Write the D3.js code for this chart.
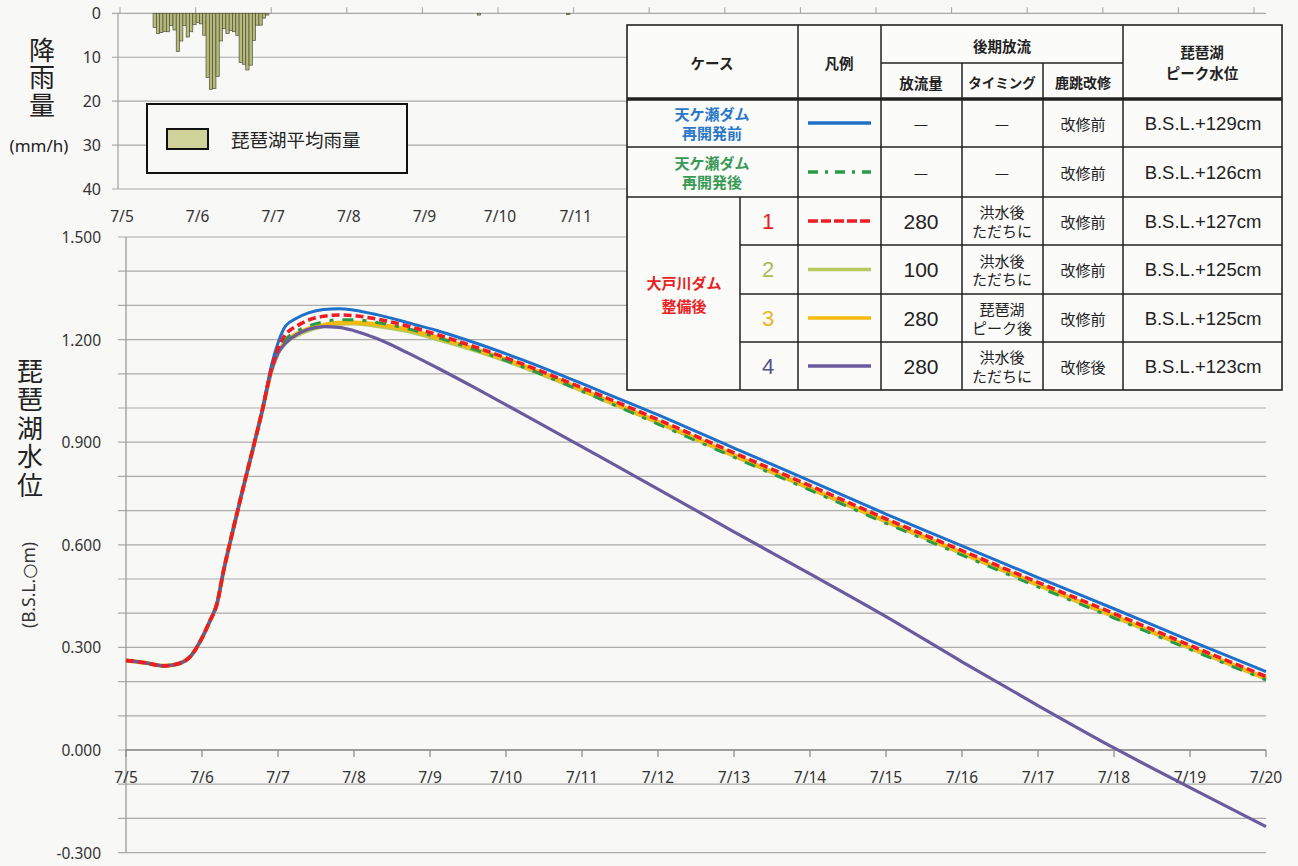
<!DOCTYPE html>
<html><head><meta charset="utf-8">
<script src="https://cdn.jsdelivr.net/npm/d3@7"></script>
<style>
html,body{margin:0;padding:0;background:#f8f8f6;}
svg{display:block;}
</style></head>
<body>
<svg id="c" width="1298" height="866"></svg>
<script>
// ---------------- DATA ----------------
// day offsets from 7/5 00:00
const days = [0, 0.25, 0.5, 0.7, 0.85, 0.97, 1.1, 1.2, 1.28, 1.41, 1.54, 1.675, 1.785,
  1.92, 2.0, 2.1, 2.25, 2.4, 2.6, 2.8, 3.0, 3.3, 3.7, 4.1, 4.6, 5.2, 6.2, 7.0, 8.0, 9.0, 10.0, 11.0, 12.0, 13.0, 14.0, 15.0];
// common rising limb (identical for all cases)
const risingLimb = [0.262, 0.255, 0.246, 0.253, 0.274, 0.315, 0.375, 0.43, 0.52, 0.645, 0.765, 0.885, 0.985];
const amagaseBefore = [1.13,1.19,1.24,1.263,1.278,1.288,1.29,1.286,1.273,1.25,1.226,1.19,1.142,1.053,0.98,0.883,0.787,0.69,0.597,0.504,0.413,0.32,0.229];
const amagaseAfter  = [1.115,1.165,1.2,1.225,1.24,1.252,1.258,1.258,1.25,1.232,1.206,1.17,1.122,1.03,0.953,0.856,0.76,0.663,0.57,0.477,0.386,0.294,0.205];
const case1 = [1.12,1.175,1.215,1.24,1.257,1.268,1.272,1.27,1.26,1.24,1.214,1.178,1.13,1.041,0.966,0.869,0.773,0.676,0.583,0.49,0.399,0.306,0.215];
const case2 = [1.113,1.16,1.19,1.212,1.227,1.24,1.246,1.247,1.24,1.225,1.201,1.168,1.122,1.032,0.957,0.86,0.764,0.668,0.575,0.482,0.39,0.298,0.208];
const case3 = [1.115,1.163,1.195,1.218,1.232,1.243,1.249,1.25,1.245,1.23,1.206,1.172,1.126,1.035,0.96,0.862,0.766,0.67,0.577,0.484,0.392,0.3,0.21];
const case4 = [1.115,1.16,1.19,1.215,1.23,1.238,1.236,1.226,1.203,1.162,1.117,1.058,0.985,0.862,0.763,0.638,0.515,0.39,0.258,0.13,0.006,-0.11,-0.224];

const dateLabels = ["7/5","7/6","7/7","7/8","7/9","7/10","7/11","7/12","7/13","7/14","7/15","7/16","7/17","7/18","7/19","7/20"];
const rainDateLabels = ["7/5","7/6","7/7","7/8","7/9","7/10","7/11"];
const levelTicks = [-0.3, 0, 0.3, 0.6, 0.9, 1.2, 1.5];
const rainTicks = [0, 10, 20, 30, 40];

// hourly rainfall (hour index on the rain chart's hourly axis) [mm/h]
const rainHour = [10,11,12,13,14,15,16,17,18,19,20,21,22,23,24,25,26,27,28,29,30,31,32,33,34,35,36,37,38,39,40,41,42,43,44,108,135];
const rainValue = [3.2,4.6,4.4,4.1,4.2,2.8,3.8,8.7,6.3,2.8,5.4,4.2,2.6,2.1,2.4,5.0,14.6,17.3,17.1,14.4,6.3,3.5,4.6,3.9,4.2,5.0,11.2,11.6,12.9,11.8,6.2,2.7,2.7,1.1,0.4,0.4,0.3];

// table content
const tableCase = ["天ケ瀬ダム\n再開発前","天ケ瀬ダム\n再開発後","1","2","3","4"];
const tableFlow = ["—","—","280","100","280","280"];
const tableTiming = ["—","—","洪水後\nただちに","洪水後\nただちに","琵琶湖\nピーク後","洪水後\nただちに"];
const tableKase = ["改修前","改修前","改修前","改修前","改修前","改修後"];
const tablePeak = ["B.S.L.+129cm","B.S.L.+126cm","B.S.L.+127cm","B.S.L.+125cm","B.S.L.+125cm","B.S.L.+123cm"];

// ---------------- DRAW ----------------
const svg = d3.select("#c");
const JP = "'Noto Sans CJK JP','Noto Sans',sans-serif";
const NUM = "'Noto Sans','DejaVu Sans',sans-serif";
const ARIAL = "'Liberation Sans',Arial,sans-serif";

const x = d3.scaleLinear().domain([0, 15]).range([126, 1266]);
const y = d3.scaleLinear().domain([-0.3, 1.5]).range([852.6, 237]);
const xr = d3.scaleLinear().domain([0, 15]).range([120, 1254]);
const xh = d3.scaleLinear().domain([0, 24]).range([120, 199.4]);   // hourly bar axis
const yr = d3.scaleLinear().domain([0, 40]).range([13.3, 189]);

// ---- rain chart ----
const rain = svg.append("g");
rain.selectAll("line.rg").data(rainTicks).join("line")
  .attr("x1", 112).attr("x2", 1266).attr("y1", d => yr(d)).attr("y2", d => yr(d))
  .attr("stroke", "#a9a9a9").attr("stroke-width", 1.2);
rain.append("line").attr("x1", 118).attr("x2", 118).attr("y1", yr(0)).attr("y2", yr(40))
  .attr("stroke", "#a0a0a0").attr("stroke-width", 1.2);
rain.selectAll("line.rt").data(dateLabels).join("line")
  .attr("x1", (d, i) => xr(i)).attr("x2", (d, i) => xr(i)).attr("y1", yr(0)).attr("y2", yr(0) - 6)
  .attr("stroke", "#a0a0a0");
rain.selectAll("text.ry").data(rainTicks).join("text")
  .attr("x", 101).attr("y", d => yr(d)).attr("text-anchor", "end").attr("dominant-baseline", "central")
  .attr("font-family", NUM).attr("font-size", 16).attr("fill", "#333").text(d => d);
rain.selectAll("text.rx").data(rainDateLabels).join("text")
  .attr("x", (d, i) => xr(i) + 2).attr("y", 216).attr("text-anchor", "middle").attr("dominant-baseline", "central")
  .attr("font-family", NUM).attr("font-size", 15.5).attr("fill", "#333").text(d => d);
const bw = xh(1) - xh(0);
rain.selectAll("rect.bar").data(rainHour).join("rect")
  .attr("x", d => xh(d)).attr("width", bw)
  .attr("y", yr(0)).attr("height", (d, i) => yr(rainValue[i]) - yr(0))
  .attr("fill", "#b7bb78").attr("stroke", "#4d4d40").attr("stroke-width", 0.7);
// rain legend
rain.append("rect").attr("x", 147).attr("y", 104).attr("width", 260).attr("height", 69)
  .attr("fill", "#f8f8f6").attr("stroke", "#111").attr("stroke-width", 2);
rain.append("rect").attr("x", 167).attr("y", 129).attr("width", 41).attr("height", 20)
  .attr("fill", "#cfd39a").attr("stroke", "#111").attr("stroke-width", 2);
rain.append("text").attr("x", 231).attr("y", 139).attr("dominant-baseline", "central")
  .attr("font-family", JP).attr("font-size", 18.5).attr("fill", "#222").text("琵琶湖平均雨量");
// rain axis title (vertical writing)
rain.append("text").attr("x", 42).attr("y", 37)
  .style("writing-mode", "vertical-rl").style("letter-spacing", "1.5px")
  .attr("font-family", JP).attr("font-size", 26).attr("fill", "#222").text("降雨量");
rain.append("text").attr("x", 39).attr("y", 145).attr("text-anchor", "middle").attr("dominant-baseline", "central")
  .attr("font-family", NUM).attr("font-size", 17).attr("fill", "#222").text("(mm/h)");

// ---- main chart ----
const main = svg.append("g");
const gridVals = d3.range(-3, 16).map(k => k / 10);
main.selectAll("line.g").data(gridVals).join("line")
  .attr("x1", 118).attr("x2", 1266).attr("y1", d => y(d)).attr("y2", d => y(d))
  .attr("stroke", "#ababab").attr("stroke-width", 1.2);
main.append("line").attr("x1", 126).attr("x2", 126).attr("y1", y(1.5)).attr("y2", y(-0.3))
  .attr("stroke", "#9a9a9a").attr("stroke-width", 1.3);
main.append("line").attr("x1", 126).attr("x2", 1266).attr("y1", y(0)).attr("y2", y(0))
  .attr("stroke", "#8a8a8a").attr("stroke-width", 1.4);
main.selectAll("line.xt").data(dateLabels).join("line")
  .attr("x1", (d, i) => x(i)).attr("x2", (d, i) => x(i)).attr("y1", y(0)).attr("y2", y(0) + 7)
  .attr("stroke", "#8a8a8a").attr("stroke-width", 1.2);
main.selectAll("text.xl").data(dateLabels).join("text")
  .attr("x", (d, i) => x(i)).attr("y", 777).attr("text-anchor", "middle").attr("dominant-baseline", "central")
  .attr("font-family", NUM).attr("font-size", 15.5).attr("fill", "#333").text(d => d);
main.selectAll("text.yl").data(levelTicks).join("text")
  .attr("x", 101).attr("y", d => y(d)).attr("text-anchor", "end").attr("dominant-baseline", "central")
  .attr("font-family", NUM).attr("font-size", 15.5).attr("fill", "#333").text(d => d3.format(".3f")(d).replace("−", "-"));
main.append("text").attr("x", 30).attr("y", 358)
  .style("writing-mode", "vertical-rl").style("letter-spacing", "2.5px")
  .attr("font-family", JP).attr("font-size", 26).attr("fill", "#222").text("琵琶湖水位");
main.append("text").attr("transform", "translate(28,585) rotate(-90)").attr("text-anchor", "middle")
  .attr("dominant-baseline", "central").attr("font-family", NUM).attr("font-size", 17.5)
  .attr("fill", "#333").text("(B.S.L.○m)");

const line = d3.line().x((d, i) => x(days[i])).y(d => y(d)).curve(d3.curveMonotoneX);
const series = [
  {v: risingLimb.concat(case2), c: "#b8c85c", w: 4, dash: null},
  {v: risingLimb.concat(case3), c: "#f6b90d", w: 4, dash: null},
  {v: risingLimb.concat(amagaseBefore), c: "#1f70c8", w: 3, dash: null},
  {v: risingLimb.concat(amagaseAfter), c: "#2a9a46", w: 3, dash: "11,9,4,9"},
  {v: risingLimb.concat(case4), c: "#6a5a9e", w: 3.2, dash: null},
  {v: risingLimb.concat(case1), c: "#ee1c24", w: 3.6, dash: "8,4"}
];
main.selectAll("path.s").data(series).join("path")
  .attr("d", d => line(d.v)).attr("fill", "none").attr("stroke", d => d.c)
  .attr("stroke-width", d => d.w).attr("stroke-dasharray", d => d.dash);

// ---- table ----
const tb = svg.append("g");
const ry = [99, 147, 197, 245, 294, 342, 390];
tb.append("rect").attr("x", 627).attr("y", 25).attr("width", 655).attr("height", 365)
  .attr("fill", "#fbfbfa").attr("stroke", "#222").attr("stroke-width", 1.6);
const L = (x1, y1, x2, y2, w) => tb.append("line").attr("x1", x1).attr("y1", y1).attr("x2", x2).attr("y2", y2)
  .attr("stroke", "#222").attr("stroke-width", w || 1.5);
L(627, 99, 1282, 99, 3.5);
L(627, 147, 1282, 147); L(627, 197, 1282, 197);
[245, 294, 342].forEach(v => L(740, v, 1282, v));
L(881, 63, 1123, 63);
[798, 881, 1123].forEach(v => L(v, 25, v, 390));
[962, 1043].forEach(v => L(v, 63, v, 390));
L(740, 197, 740, 390);

const T = (tx, ty, s, size, fam, col, weight, lhf) => {
  const lines = s.split("\n");
  const lh = size * (lhf || 1.25);
  lines.forEach((ln, k) => {
    tb.append("text").attr("x", tx).attr("y", ty + (k - (lines.length - 1) / 2) * lh)
      .attr("text-anchor", "middle").attr("dominant-baseline", "central")
      .attr("font-family", fam).attr("font-size", size).attr("fill", col)
      .attr("font-weight", weight || "normal").text(ln);
  });
};
T(712, 62, "ケース", 14.5, JP, "#222", "bold");
T(839, 62, "凡例", 14.5, JP, "#222", "bold");
T(1002, 45, "後期放流", 14.5, JP, "#222", "bold");
T(921, 82, "放流量", 14.5, JP, "#222", "bold");
T(1002, 82, "タイミング", 13.5, JP, "#222", "bold");
T(1083, 82, "鹿跳改修", 14, JP, "#222", "bold");
T(1202, 62, "琵琶湖\nピーク水位", 14.5, JP, "#222", "bold", 1.4);

const caseColors = ["#2a78c8", "#3a9a55", "#e8231f", "#a9bc55", "#f0b51c", "#55558a"];
const legendStyle = [
  {c: "#1f70c8", dash: null}, {c: "#2a9a46", dash: "10,7,3,7"}, {c: "#ee1c24", dash: "10,3"},
  {c: "#b8c85c", dash: null}, {c: "#f6b90d", dash: null}, {c: "#6a5a9e", dash: null}
];
tableCase.forEach((s, i) => {
  const cy = (ry[i] + ry[i + 1]) / 2;
  if (i < 2) T(712, cy, s, 15, JP, caseColors[i], "bold");
  else T(768, cy, s, 22, ARIAL, caseColors[i]);
  tb.append("line").attr("x1", 808).attr("x2", 871).attr("y1", cy).attr("y2", cy)
    .attr("stroke", legendStyle[i].c).attr("stroke-width", 3.4).attr("stroke-dasharray", legendStyle[i].dash);
  T(921, cy, tableFlow[i], tableFlow[i] === "—" ? 16 : 21, i < 2 ? JP : ARIAL, "#222");
  T(1002, cy, tableTiming[i], tableTiming[i] === "—" ? 16 : 15, JP, "#222");
  T(1083, cy, tableKase[i], 15, JP, "#222");
  T(1203, cy, tablePeak[i], 18.5, ARIAL, "#222");
});
T(684, 294, "大戸川ダム\n整備後", 15, JP, "#e8231f", "bold", 1.5);
</script>
</body></html>
